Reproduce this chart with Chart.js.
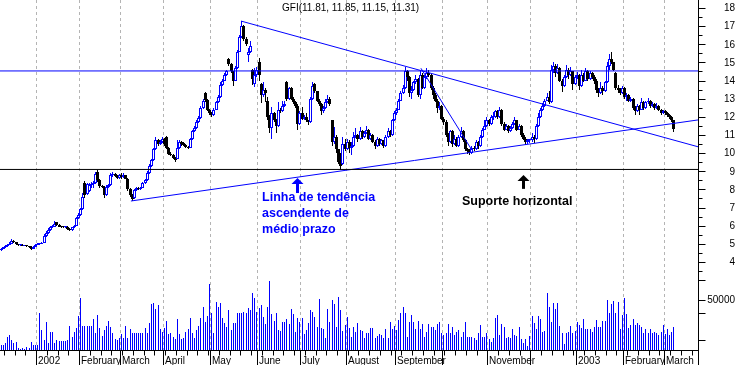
<!DOCTYPE html>
<html><head><meta charset="utf-8">
<script src="https://cdn.jsdelivr.net/npm/chart.js@4"></script>
<style>html,body{margin:0;padding:0;background:#fff;overflow:hidden}canvas{display:block}</style>
</head><body>
<canvas id="c" width="738" height="365"></canvas>
<script>
// ---- data (one entry per trading day, mid Dec 2001 .. mid Mar 2003) ----
const opens = [
4.65,4.72,4.80,4.88,4.95,5.00,5.18,5.10,4.98,4.92,
4.95,4.90,4.92,4.88,4.85,4.74,4.85,4.95,5.00,5.00,
5.05,5.45,5.60,5.75,5.90,5.95,6.20,6.05,5.95,5.92,
5.90,5.95,5.82,5.75,5.90,6.00,6.40,6.60,6.90,8.35,
7.75,7.90,8.25,8.30,8.35,8.95,8.50,8.20,8.15,7.70,
8.15,8.25,8.80,8.85,8.75,8.65,8.80,8.70,8.80,8.60,
8.00,7.70,7.50,7.95,8.10,8.00,8.10,8.35,8.50,8.90,
9.30,9.60,10.20,10.70,10.50,10.60,10.80,10.90,10.30,9.95,
9.90,9.75,9.70,10.30,10.60,10.55,10.45,10.35,10.30,10.80,
11.20,11.40,11.70,11.95,12.50,13.30,12.95,12.40,12.20,12.10,
12.40,12.80,13.10,13.75,14.00,14.30,15.20,14.90,14.50,14.00,
14.70,15.60,16.40,17.00,16.30,15.40,15.60,14.60,13.80,14.30,
15.00,13.80,13.20,13.50,12.90,12.00,11.40,12.20,11.80,11.50,
12.40,12.30,12.60,13.90,13.00,13.60,13.00,12.80,12.60,11.60,
12.20,11.90,12.00,11.80,11.70,13.00,13.80,13.40,12.90,12.70,
12.30,12.50,12.80,13.00,11.80,10.60,10.90,10.20,9.50,9.40,
10.50,10.20,10.60,10.30,10.40,10.90,11.00,10.80,11.20,10.90,
11.10,11.30,10.80,11.00,10.60,10.40,10.80,10.50,10.70,10.40,
10.90,11.20,11.00,11.80,12.20,12.40,12.90,13.30,13.60,14.50,
14.20,13.30,13.50,13.90,14.10,13.20,14.30,13.60,14.20,14.40,
14.30,13.60,13.20,12.90,12.50,12.60,11.90,11.70,11.00,10.60,
11.20,10.50,10.80,10.40,10.90,11.20,10.70,10.20,10.10,10.00,
10.30,10.20,10.60,10.40,10.90,11.30,11.50,11.80,11.60,12.00,
12.00,12.30,12.00,12.40,11.60,11.30,11.50,11.20,11.40,11.60,
11.80,11.30,11.50,11.00,10.80,10.60,10.70,10.70,10.90,10.80,
11.50,12.00,12.40,12.60,12.90,13.10,12.80,14.60,14.80,14.40,
14.70,14.00,13.70,14.20,14.60,14.30,14.50,13.80,14.20,14.30,
13.70,14.30,14.00,14.50,14.10,14.40,14.20,14.00,13.50,13.30,
13.60,13.40,13.90,14.80,15.20,15.00,14.40,13.60,13.50,13.30,
13.60,13.10,13.20,12.90,13.00,12.50,12.30,12.60,12.40,12.80,
12.50,12.80,12.90,12.60,12.70,12.50,12.60,12.40,12.20,12.30,
12.20,12.10,12.00,11.81];
const highs = [
4.78,4.85,4.92,5.00,5.08,5.25,5.22,5.12,5.00,5.00,
4.98,4.96,4.95,4.90,4.86,4.88,4.98,5.05,5.05,5.10,
5.55,5.70,5.85,6.00,6.05,6.25,6.22,6.08,6.00,5.98,
6.00,5.96,5.85,5.95,6.05,6.50,6.70,7.00,7.80,8.45,
8.35,8.35,8.40,8.45,8.95,9.05,8.55,8.25,8.18,8.25,
8.30,8.90,8.95,8.90,8.80,8.85,8.90,8.90,8.82,8.62,
8.10,7.75,8.00,8.15,8.15,8.15,8.40,8.60,9.00,9.40,
9.70,10.30,10.90,10.80,10.70,10.90,10.85,10.95,10.35,10.05,
9.95,9.80,10.70,10.70,10.65,10.60,10.50,10.40,10.85,11.30,
11.50,11.80,12.05,12.60,13.00,13.35,13.00,12.45,12.25,12.50,
12.90,13.20,13.90,14.10,14.40,14.60,15.25,14.95,14.55,14.80,
15.70,16.50,17.30,17.05,16.40,15.80,16.20,14.65,14.70,14.75,
15.25,13.85,13.90,13.60,13.10,12.10,12.55,12.25,11.90,12.80,
12.50,12.90,12.85,14.00,13.65,13.65,13.10,12.90,12.70,12.30,
12.55,12.10,12.20,11.85,13.10,13.90,13.85,13.45,13.00,12.75,
12.60,13.00,13.20,13.10,11.85,11.45,11.00,10.25,10.00,10.90,
10.80,10.80,10.70,10.60,11.15,11.40,11.05,11.45,11.30,11.20,
11.50,11.35,11.10,11.05,10.70,10.90,10.85,10.80,10.75,11.00,
11.40,11.30,11.90,12.30,12.50,13.00,13.40,13.75,14.75,14.60,
14.25,13.70,14.00,14.30,14.15,14.50,14.40,14.30,14.70,14.60,
14.35,13.70,13.30,13.00,12.80,12.65,12.00,11.80,11.10,11.30,
11.25,11.00,10.90,11.00,11.45,11.25,10.80,10.30,10.20,10.40,
10.40,10.70,10.65,11.00,11.40,11.80,12.00,11.90,12.10,12.25,
12.40,12.35,12.55,12.45,11.70,11.60,11.55,11.50,11.70,12.00,
11.85,11.60,11.55,11.10,10.90,10.80,10.80,11.10,11.00,11.60,
12.20,12.50,12.75,13.00,13.30,13.40,14.85,15.00,14.90,14.90,
14.75,14.10,14.30,14.85,14.70,14.75,14.55,14.30,14.45,14.35,
14.60,14.40,14.70,14.60,14.50,14.45,14.30,14.10,13.60,13.90,
13.70,14.00,15.00,15.45,15.55,15.05,14.45,13.75,13.60,13.70,
13.65,13.30,13.25,13.10,13.05,12.60,12.70,12.65,13.05,12.85,
12.90,13.05,12.95,12.80,12.75,12.75,12.65,12.45,12.40,12.35,
12.25,12.15,12.05,11.85];
const lows = [
4.62,4.70,4.78,4.85,4.92,4.98,5.05,4.95,4.88,4.90,
4.86,4.88,4.85,4.76,4.68,4.72,4.83,4.92,4.95,4.98,
5.02,5.40,5.55,5.70,5.85,5.92,6.00,5.90,5.88,5.85,
5.86,5.75,5.70,5.73,5.88,5.98,6.35,6.55,6.85,7.55,
7.70,7.85,8.10,8.10,8.30,8.40,8.10,8.10,7.50,7.65,
8.10,8.20,8.70,8.70,8.55,8.60,8.60,8.65,8.55,7.90,
7.60,7.35,7.45,7.90,7.95,7.98,8.05,8.30,8.45,8.85,
9.25,9.55,10.15,10.40,10.45,10.55,10.40,10.25,9.90,9.85,
9.70,9.50,9.65,10.25,10.40,10.40,10.30,10.25,10.28,10.75,
11.15,11.35,11.65,11.90,12.45,12.80,12.30,12.10,12.00,12.05,
12.35,12.75,13.05,13.70,13.95,14.25,14.80,14.40,13.70,13.95,
14.65,15.55,16.35,16.20,15.90,15.00,15.50,13.75,13.65,14.20,
14.00,12.75,13.10,12.80,11.80,11.10,10.80,11.70,11.10,11.45,
12.20,12.25,12.55,12.90,12.95,12.95,12.70,12.50,11.30,11.55,
11.80,11.85,11.70,11.55,11.65,12.95,13.30,12.80,12.60,12.10,
12.20,12.45,12.75,12.60,10.40,10.50,10.00,9.40,9.07,9.35,
10.10,10.15,10.00,9.90,10.35,10.85,10.60,10.75,10.80,10.85,
11.05,10.70,10.75,10.55,10.20,10.35,10.40,10.45,10.30,10.35,
10.85,10.90,10.95,11.75,12.10,12.35,12.85,13.25,13.55,14.00,
13.10,13.00,13.40,13.80,13.10,13.00,13.55,13.55,14.10,14.20,
13.50,13.00,12.80,12.20,12.40,11.80,11.55,10.90,10.40,10.55,
10.35,10.45,10.35,10.35,10.85,10.60,10.10,9.95,9.90,9.95,
10.10,10.15,10.20,10.35,10.85,11.25,11.45,11.50,11.55,11.80,
11.95,11.90,11.95,11.50,11.20,11.25,11.10,11.15,11.35,11.55,
11.20,11.25,10.90,10.70,10.45,10.50,10.55,10.60,10.55,10.75,
11.45,11.95,12.30,12.55,12.85,12.70,12.75,14.40,14.20,14.35,
13.90,13.35,13.65,14.15,14.10,14.25,13.50,13.75,14.10,13.50,
13.65,13.90,13.95,13.95,14.05,14.10,13.80,13.30,13.10,13.25,
13.20,13.35,13.85,14.60,14.90,14.50,13.50,13.30,13.20,13.25,
13.00,12.90,12.80,12.80,12.40,12.10,12.25,12.10,12.35,12.40,
12.45,12.70,12.50,12.55,12.40,12.45,12.30,12.10,12.15,12.10,
12.00,11.90,11.70,11.15];
const closes = [
4.72,4.80,4.88,4.95,5.00,5.15,5.10,4.98,4.92,4.95,
4.90,4.92,4.88,4.80,4.72,4.85,4.95,5.00,5.00,5.05,
5.45,5.60,5.75,5.90,5.95,6.10,6.05,5.95,5.92,5.90,
5.95,5.80,5.75,5.90,6.00,6.40,6.60,6.90,7.60,7.70,
8.30,8.25,8.30,8.35,8.85,8.50,8.20,8.15,7.70,8.15,
8.25,8.80,8.85,8.75,8.65,8.80,8.70,8.80,8.60,8.00,
7.70,7.45,7.95,8.10,8.00,8.10,8.35,8.50,8.90,9.30,
9.60,10.20,10.70,10.50,10.60,10.80,10.50,10.30,9.95,9.90,
9.75,9.60,10.30,10.60,10.50,10.45,10.35,10.30,10.80,11.20,
11.40,11.70,11.95,12.50,12.90,12.95,12.40,12.20,12.10,12.40,
12.80,13.10,13.75,14.00,14.30,14.50,14.90,14.50,14.00,14.70,
15.60,16.40,17.00,16.30,16.00,15.60,15.90,14.10,14.30,14.60,
14.30,13.20,13.50,13.30,12.00,11.40,12.20,11.80,11.50,12.40,
12.30,12.60,12.70,13.00,13.60,13.00,12.80,12.60,11.60,12.20,
11.90,12.00,11.80,11.70,13.00,13.70,13.40,12.90,12.70,12.30,
12.50,12.80,13.00,12.70,10.60,10.90,10.20,9.50,9.30,10.50,
10.20,10.60,10.30,10.40,10.90,11.00,10.80,11.20,10.90,11.10,
11.30,10.80,11.00,10.60,10.40,10.80,10.50,10.70,10.40,10.90,
11.20,11.00,11.80,12.20,12.40,12.90,13.30,13.60,14.50,14.20,
13.30,13.50,13.90,14.10,13.20,14.30,13.60,14.20,14.40,14.30,
13.60,13.20,12.90,12.50,12.60,11.90,11.70,11.00,10.60,11.20,
10.50,10.80,10.40,10.90,11.20,10.70,10.20,10.10,10.00,10.30,
10.20,10.60,10.40,10.90,11.30,11.50,11.80,11.60,12.00,12.00,
12.30,12.00,12.40,11.60,11.30,11.50,11.20,11.40,11.60,11.80,
11.30,11.50,11.00,10.80,10.60,10.70,10.70,10.90,10.80,11.50,
12.00,12.40,12.60,12.90,13.10,12.80,14.60,14.80,14.40,14.70,
14.00,13.70,14.20,14.60,14.30,14.50,13.80,14.20,14.30,13.70,
14.30,14.00,14.50,14.10,14.40,14.20,14.00,13.50,13.30,13.60,
13.40,13.90,14.80,15.20,15.00,14.60,13.60,13.50,13.30,13.60,
13.10,13.20,12.90,13.00,12.50,12.30,12.60,12.40,12.80,12.50,
12.80,12.90,12.60,12.70,12.50,12.60,12.40,12.20,12.30,12.20,
12.10,12.00,11.80,11.31];
const volumes = [
5000,5000,7000,13000,15000,10000,7000,8000,2000,1000,
2000,1000,3000,2000,8000,5000,5000,5000,37000,20000,
10000,28000,7000,18000,18000,7000,10000,9000,9000,9000,
9000,10000,24000,13000,18000,22000,34000,52000,24000,24000,
24000,24000,24000,31000,17000,35000,22000,14000,20000,24000,
29000,23000,17000,11000,10000,12000,16000,12000,24000,12000,
21000,17000,17000,17000,17000,17000,17000,22000,17000,27000,
46000,47000,41000,45000,21000,18000,22000,29000,16000,17000,
13000,11000,31000,16000,11000,12000,18000,21000,32000,17000,
12000,20000,24000,32000,43000,28000,34000,66000,37000,17000,
48000,43000,47000,32000,27000,23000,40000,20000,27000,27000,
37000,37000,37000,38000,37000,42000,
40000,57000,52000,38000,42000,45000,33000,26000,43000,69000,
36000,29000,37000,20000,19000,28000,28000,31000,26000,41000,
36000,18000,32000,28000,32000,16000,20000,27000,40000,38000,
33000,23000,51000,22000,21000,12000,41000,28000,50000,46000,
23000,53000,40000,19000,25000,33000,22000,13000,23000,18000,
27000,20000,19000,12000,17000,17000,22000,22000,12000,14000,
16000,15000,12000,21000,12000,28000,21000,24000,20000,30000,
37000,43000,37000,13000,28000,35000,28000,21000,29000,21000,
26000,13000,18000,26000,23000,23000,20000,26000,28000,17000,
15000,17000,26000,17000,23000,15000,18000,20000,13000,18000,
28000,13000,13000,13000,12000,10000,17000,25000,13000,13000,17000,
11000,8000,12000,32000,35000,15000,26000,23000,12000,13000,
12000,21000,15000,14000,23000,11000,7000,11000,4000,14000,
34000,27000,21000,34000,31000,18000,19000,57000,43000,28000,
47000,41000,47000,24000,17000,6000,17000,18000,24000,17000,
19000,28000,25000,22000,31000,21000,21000,21000,18000,23000,
30000,23000,23000,29000,29000,50000,37000,46000,49000,37000,
48000,21000,35000,52000,36000,22000,25000,31000,25000,27000,
25000,23000,17000,21000,17000,21000,17000,18000,17000,15000,
18000,25000,16000,21000,15000,18000,23000];

// trading-day index of the first session of each month, and its label
const monthStartDays = [17,37,56,76,98,120,140,161,184,206,227,247,268,290,309];
const monthLabels = ['2002','February','March','April','May','June','July','August','September','','November','','2003','February','March'];
const priceTickLabels = [4,5,6,7,8,9,10,11,12,13,14,15,16,17,18];
const volumeTickLabels = [50000];
const titleText = 'GFI(11.81, 11.85, 11.15, 11.31)';

// drawn studies: [dayIndex, price]
const supportLevel = 9.1;
const resistanceLevel = 14.53;
const risingTrend = [[60.4, 7.36], [324.2, 11.83]];
const fallingTrend = [[111.6, 17.28], [324.2, 10.35]];
const steepTrend = [[195.3, 14.68], [219.0, 10.17]];

const BLUE = '#0000ff';
const FONT = '"Liberation Sans", Arial, Helvetica, sans-serif';
const notes = [
  {lines: ['Linha de tendência', 'ascendente de', 'médio prazo'], color: BLUE, day: 121.4, price: 7.54},
  {lines: ['Suporte horizontal'], color: '#000', day: 214.4, price: 7.32}
];
const arrows = [
  {day: 137.7, tip: 8.63, base: 7.80, color: BLUE},
  {day: 242.6, tip: 8.79, base: 8.03, color: '#000'}
];

const days = closes.map((_, i) => i);
const isUp = closes.map((c, i) => c >= opens[i]);

const decor = {
  id: 'decor',
  afterDatasetsUpdate(chart) {
    chart.data.datasets.forEach((ds, di) => {
      if (ds.type === 'line') return;
      chart.getDatasetMeta(di).data.forEach(el => {
        el.x = Math.floor(el.x) + 0.5;
        el.y = Math.round(el.y); el.base = Math.round(el.base);
        if (Math.abs(el.base - el.y) < 1) el.y = el.base - 1;
      });
    });
  },
  beforeDatasetsDraw(chart) {
    const {ctx, chartArea: a, scales: {x}} = chart;
    ctx.save();
    ctx.strokeStyle = '#b4b4b4'; ctx.lineWidth = 1; ctx.setLineDash([3, 3]);
    monthStartDays.forEach(d => {
      const px = Math.floor(x.getPixelForValue(d - 0.5)) + 0.5;
      ctx.beginPath(); ctx.moveTo(px, a.top); ctx.lineTo(px, a.bottom); ctx.stroke();
    });
    ctx.restore();
  },
  afterDatasetsDraw(chart) {
    const {ctx, chartArea: a, scales: {x, y, yv}} = chart;
    ctx.save();
    ctx.strokeStyle = '#000'; ctx.fillStyle = '#000'; ctx.lineWidth = 1;
    // right axis
    const rx = a.right + 0.5;
    ctx.beginPath(); ctx.moveTo(rx, a.top); ctx.lineTo(rx, chart.height); ctx.stroke();
    for (let v = 3; v <= 18; v += 0.5) {
      const py = Math.round(y.getPixelForValue(v)) + 0.5;
      const len = Number.isInteger(v) ? 7 : 4;
      ctx.beginPath(); ctx.moveTo(rx, py); ctx.lineTo(rx + len, py); ctx.stroke();
    }
    [10000, 37000, 50000].forEach(v => {
      const py = Math.round(yv.getPixelForValue(v)) + 0.5;
      ctx.beginPath(); ctx.moveTo(rx, py); ctx.lineTo(rx + 7, py); ctx.stroke();
    });
    ctx.font = '10px ' + FONT; ctx.textAlign = 'right'; ctx.textBaseline = 'middle';
    priceTickLabels.forEach(v => ctx.fillText(String(v), 735, y.getPixelForValue(v) + 0.5));
    volumeTickLabels.forEach(v => ctx.fillText(String(v), 735, yv.getPixelForValue(v) + 0.5));
    // bottom axis
    const by = a.bottom + 0.5;
    ctx.beginPath(); ctx.moveTo(a.left, by); ctx.lineTo(a.right, by); ctx.stroke();
    for (let d = 2; d < 325; d += 5) {
      const px = Math.floor(x.getPixelForValue(d - 0.5)) + 0.5;
      ctx.beginPath(); ctx.moveTo(px, by); ctx.lineTo(px, by + 5); ctx.stroke();
    }
    ctx.textAlign = 'left'; ctx.textBaseline = 'alphabetic';
    monthStartDays.forEach((d, k) => {
      const px = Math.floor(x.getPixelForValue(d - 0.5)) + 0.5;
      ctx.beginPath(); ctx.moveTo(px, by); ctx.lineTo(px, chart.height); ctx.stroke();
      if (monthLabels[k]) ctx.fillText(monthLabels[k], px + 1.5, 364);
    });
    // title
    ctx.font = '10px ' + FONT; ctx.textBaseline = 'middle';
    ctx.fillText(titleText, x.getPixelForValue(130.7), y.getPixelForValue(17.98));
    // notes
    ctx.font = 'bold 12.5px ' + FONT;
    notes.forEach(n => {
      ctx.fillStyle = n.color;
      const px = x.getPixelForValue(n.day), py = y.getPixelForValue(n.price);
      n.lines.forEach((t, k) => ctx.fillText(t, px, py + k * 16));
    });
    // arrows
    arrows.forEach(ar => {
      const px = Math.round(x.getPixelForValue(ar.day));
      const ty = y.getPixelForValue(ar.tip), byy = y.getPixelForValue(ar.base);
      ctx.fillStyle = ar.color;
      ctx.beginPath();
      ctx.moveTo(px + 0.5, ty); ctx.lineTo(px + 6.5, ty + 6); ctx.lineTo(px - 5.5, ty + 6); ctx.closePath(); ctx.fill();
      ctx.fillRect(px - 1, ty + 5, 3, byy - ty - 5);
    });
    ctx.restore();
  }
};

const ctx = document.getElementById('c').getContext('2d');
new Chart(ctx, {
  type: 'bar',
  data: {
    datasets: [
      {type: 'line', data: [{x: -0.5, y: supportLevel}, {x: 324.2, y: supportLevel}], borderColor: '#000', borderWidth: 1, pointRadius: 0, yAxisID: 'y', order: -1},
      {type: 'line', data: [{x: -0.5, y: resistanceLevel}, {x: 324.2, y: resistanceLevel}], borderColor: BLUE, borderWidth: 1, pointRadius: 0, yAxisID: 'y', order: -1},
      {type: 'line', data: risingTrend.map(p => ({x: p[0], y: p[1]})), borderColor: BLUE, borderWidth: 1, pointRadius: 0, yAxisID: 'y', order: -1},
      {type: 'line', data: fallingTrend.map(p => ({x: p[0], y: p[1]})), borderColor: BLUE, borderWidth: 1, pointRadius: 0, yAxisID: 'y', order: -1},
      {type: 'line', data: steepTrend.map(p => ({x: p[0], y: p[1]})), borderColor: BLUE, borderWidth: 1, pointRadius: 0, yAxisID: 'y', order: -1},
      {label: 'body', data: days.map(i => ({x: i, y: [opens[i], closes[i]]})), yAxisID: 'y', grouped: false, order: 0,
        barThickness: 3, borderWidth: 1, borderSkipped: false, inflateAmount: 0,
        backgroundColor: isUp.map(u => u ? '#ffffff' : '#000000'), borderColor: isUp.map(u => u ? BLUE : '#000000')},
      {label: 'wick', data: days.map(i => ({x: i, y: [lows[i], highs[i]]})), yAxisID: 'y', grouped: false, order: 1,
        barThickness: 1, borderWidth: 0, inflateAmount: 0,
        backgroundColor: isUp.map(u => u ? BLUE : '#000000')},
      {label: 'volume', data: days.map(i => ({x: i, y: volumes[i]})), yAxisID: 'yv', grouped: false, order: 2,
        barThickness: 1, borderWidth: 0, inflateAmount: 0, backgroundColor: BLUE}
    ]
  },
  options: {
    responsive: false, animation: false, devicePixelRatio: 1,
    layout: {padding: {left: 0, top: 0, right: 40, bottom: 15}},
    plugins: {legend: {display: false}, tooltip: {enabled: false}},
    scales: {
      x: {type: 'linear', display: false, min: -0.5, max: 324.2, offset: false},
      y: {type: 'linear', display: false, min: -0.853, max: 18.441},
      yv: {type: 'linear', display: false, min: 0, max: 350000}
    }
  },
  plugins: [decor]
});
</script>
</body></html>
